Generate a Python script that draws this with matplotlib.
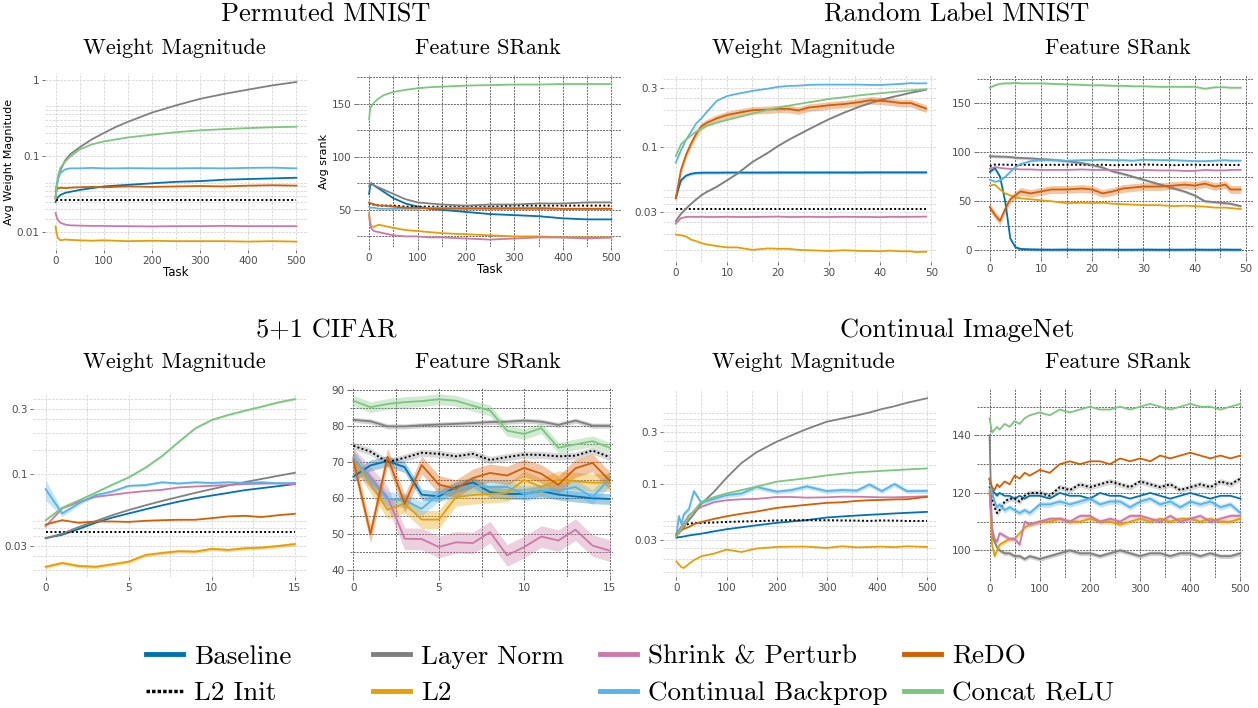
import numpy as np
import matplotlib
matplotlib.use("Agg")
import matplotlib.pyplot as plt
from matplotlib.ticker import MultipleLocator, LogLocator, NullFormatter
from matplotlib.lines import Line2D

plt.rcParams['axes.unicode_minus'] = False

methods = ["Baseline", "L2 Init", "Layer Norm", "L2", "Shrink & Perturb",
           "Continual Backprop", "ReDO", "Concat ReLU"]
colors = ["#0072B2", "#000000", "#808080", "#E69F00", "#CC79A7",
          "#56B4E9", "#D55E00", "#7BC77E"]

# ---------------- Permuted MNIST ----------------
pm_x = [0, 2, 5, 10, 20, 30, 50, 75, 100, 125, 150, 200, 250, 300, 350, 400, 450, 500]

pm_wm_baseline = [0.025, 0.027, 0.029, 0.031, 0.033, 0.034, 0.036, 0.038, 0.040, 0.041, 0.042, 0.044, 0.046, 0.047, 0.049, 0.050, 0.051, 0.052]
pm_wm_l2init = [0.0268] * 18
pm_wm_layernorm = [0.028, 0.040, 0.050, 0.065, 0.088, 0.105, 0.13, 0.165, 0.20, 0.24, 0.28, 0.37, 0.46, 0.56, 0.65, 0.74, 0.84, 0.93]
pm_wm_l2 = [0.012, 0.0098, 0.0085, 0.0079, 0.0081, 0.0080, 0.0079, 0.0078, 0.0079, 0.0078, 0.0077, 0.0078, 0.0077, 0.0077, 0.0077, 0.0076, 0.0077, 0.0076]
pm_wm_snp = [0.018, 0.016, 0.0145, 0.0134, 0.0127, 0.0124, 0.0123, 0.0122, 0.0122, 0.0121, 0.0121, 0.0120, 0.0121, 0.0121, 0.0122, 0.0121, 0.0121, 0.0121]
pm_wm_cbp = [0.030, 0.040, 0.050, 0.060, 0.067, 0.069, 0.069, 0.070, 0.069, 0.069, 0.0695, 0.069, 0.069, 0.0695, 0.069, 0.070, 0.0705, 0.069]
pm_wm_redo = [0.028, 0.036, 0.038, 0.0385, 0.038, 0.0385, 0.039, 0.0395, 0.039, 0.0395, 0.040, 0.0395, 0.040, 0.0405, 0.040, 0.041, 0.0415, 0.041]
pm_wm_concat = [0.028, 0.038, 0.055, 0.070, 0.085, 0.098, 0.122, 0.142, 0.155, 0.165, 0.175, 0.19, 0.205, 0.217, 0.225, 0.232, 0.238, 0.242]

pm_sr_baseline = [65, 72, 75, 73, 70, 67, 61, 56, 53, 51, 50, 48, 46, 45, 44, 42, 41, 41]
pm_sr_l2init = [55, 56, 55, 55, 54, 54, 54, 53, 53, 53, 53, 53, 53, 54, 54, 54, 54, 54]
pm_sr_layernorm = [72, 75, 75, 73, 71, 69, 65, 60, 57, 56, 55, 54, 55, 55, 56, 56, 57, 57]
pm_sr_l2 = [47, 38, 34, 34, 36, 35, 33, 31, 30, 29, 28, 27, 26, 25, 25, 24, 24, 24]
pm_sr_snp = [45, 36, 32, 30, 29, 28, 26, 25, 25, 24, 24, 23, 22, 23, 24, 24, 23, 24]
pm_sr_cbp = [53, 52, 52, 52, 51, 51, 51, 51, 51, 52, 52, 52, 52, 52, 52, 51, 51, 51]
pm_sr_redo = [57, 56, 56, 55, 54, 54, 53, 52, 52, 51, 51, 51, 51, 51, 51, 51, 51, 51]
pm_sr_concat = [135, 145, 148, 151, 155, 158, 161, 163, 164.5, 165.5, 166, 167, 167.5, 168, 168, 168.5, 168.5, 168.5]

# ---------------- Random Label MNIST ----------------
rlm_x = [0, 1, 2, 3, 4, 5, 6, 8, 10, 12, 15, 18, 20, 22, 24, 26, 28, 30, 33, 36, 38, 40, 42, 44, 46, 47, 49]

rlm_wm_baseline = [0.039, 0.054, 0.059, 0.061, 0.062, 0.0622, 0.0623, 0.0623, 0.0624, 0.0624, 0.0624, 0.0624, 0.0625, 0.0625, 0.0625, 0.0625, 0.0625, 0.0625, 0.0625, 0.0625, 0.0626, 0.0626, 0.0626, 0.0626, 0.0626, 0.0626, 0.0626]
rlm_wm_l2init = [0.0319] * 27
rlm_wm_layernorm = [0.0254, 0.029, 0.032, 0.035, 0.038, 0.041, 0.0435, 0.048, 0.054, 0.061, 0.076, 0.090, 0.102, 0.114, 0.126, 0.139, 0.153, 0.168, 0.19, 0.212, 0.226, 0.239, 0.251, 0.262, 0.274, 0.279, 0.29]
rlm_wm_l2 = [0.0198, 0.0195, 0.0191, 0.018, 0.0175, 0.0169, 0.0165, 0.016, 0.0156, 0.0156, 0.0149, 0.0153, 0.0152, 0.0152, 0.0149, 0.0148, 0.0147, 0.0146, 0.0148, 0.0146, 0.0146, 0.0145, 0.0147, 0.0145, 0.0145, 0.0143, 0.0144]
rlm_wm_snp = [0.0242, 0.0268, 0.0274, 0.0275, 0.0274, 0.0275, 0.0274, 0.0274, 0.0275, 0.0274, 0.0274, 0.0275, 0.0276, 0.0274, 0.0274, 0.0275, 0.0274, 0.0274, 0.0275, 0.0274, 0.0274, 0.0273, 0.0275, 0.0274, 0.0275, 0.0275, 0.0276]
rlm_wm_cbp = [0.075, 0.094, 0.114, 0.133, 0.155, 0.17, 0.19, 0.235, 0.257, 0.268, 0.283, 0.295, 0.305, 0.31, 0.312, 0.316, 0.318, 0.318, 0.318, 0.318, 0.316, 0.316, 0.319, 0.322, 0.327, 0.325, 0.326]
rlm_wm_redo = [0.0386, 0.065, 0.0865, 0.107, 0.128, 0.147, 0.156, 0.170, 0.181, 0.188, 0.198, 0.200, 0.203, 0.203, 0.197, 0.208, 0.212, 0.217, 0.222, 0.230, 0.238, 0.236, 0.232, 0.226, 0.226, 0.218, 0.204]
rlm_wm_concat = [0.0846, 0.105, 0.115, 0.124, 0.133, 0.141, 0.148, 0.157, 0.165, 0.173, 0.186, 0.199, 0.208, 0.215, 0.222, 0.229, 0.236, 0.244, 0.252, 0.261, 0.266, 0.271, 0.276, 0.281, 0.286, 0.288, 0.292]

rlm_sr_baseline = [80, 84, 75, 50, 12, 3, 1.2, 0.8, 0.6, 0.5, 0.6, 0.5, 0.5, 0.6, 0.5, 0.5, 0.5, 0.6, 0.5, 0.5, 0.5, 0.6, 0.5, 0.5, 0.6, 0.5, 0.5]
rlm_sr_l2init = [86, 87.5, 87.5, 87.3, 87.3, 87, 87.2, 87.3, 87, 87.2, 87.3, 87.3, 87, 87.3, 86.8, 87, 87.2, 87.6, 87.2, 86.8, 87.2, 87.3, 87, 87.2, 87.2, 87, 87.2]
rlm_sr_layernorm = [96, 95.8, 95.6, 95.5, 95.2, 94.5, 94.3, 93.8, 93, 92.5, 91, 89, 87, 84.5, 80.5, 78, 75, 72, 67.5, 63, 60, 56, 50, 49, 48, 47.5, 45]
rlm_sr_l2 = [66, 67, 62, 58, 56, 54, 53, 52, 51, 50, 48, 48.5, 48, 48.5, 47.5, 47, 46.5, 46, 46, 45, 45.5, 45, 44.5, 43.5, 43.5, 43, 42]
rlm_sr_snp = [83, 85, 84, 83.5, 83, 83, 82.5, 82.5, 82, 82, 82, 82.5, 82, 82, 82, 82, 81.5, 82, 81.5, 81.5, 81, 81, 82, 81.5, 81.5, 82, 82]
rlm_sr_cbp = [72, 70, 71, 75, 80, 85, 88, 91, 92, 92, 91.5, 92, 92, 92.5, 92, 92, 91.5, 92.5, 92, 92, 91.5, 91, 91, 91.5, 92, 91.5, 91.5]
rlm_sr_redo = [44, 36, 30, 42, 52, 56, 60, 58, 60, 62, 62, 63, 62, 58, 60, 63, 64, 65, 65, 66, 67, 66, 68, 65, 67, 62, 62]
rlm_sr_concat = [166, 168.5, 170, 170.5, 170.5, 171, 170.5, 170.5, 170.5, 170, 169.5, 169, 168.5, 168.5, 168, 168, 167.5, 167.5, 167, 167, 167, 167, 165, 166.5, 166.5, 166, 166]

# ---------------- 5+1 CIFAR ----------------
cf_x = list(range(16))

cf_wm_baseline = [0.034, 0.036, 0.0397, 0.044, 0.048, 0.0515, 0.0552, 0.059, 0.0628, 0.0665, 0.0696, 0.0728, 0.0762, 0.0788, 0.0815, 0.0844]
cf_wm_l2init = [0.0375] * 16
cf_wm_layernorm = [0.034, 0.0367, 0.041, 0.0452, 0.050, 0.0545, 0.059, 0.0635, 0.068, 0.0728, 0.0775, 0.0825, 0.0873, 0.092, 0.097, 0.102]
cf_wm_l2 = [0.021, 0.0224, 0.0213, 0.021, 0.0219, 0.0229, 0.0256, 0.0265, 0.0273, 0.0271, 0.0284, 0.0279, 0.0287, 0.029, 0.0298, 0.0308]
cf_wm_snp = [0.0415, 0.056, 0.0625, 0.068, 0.0704, 0.073, 0.075, 0.0766, 0.0797, 0.081, 0.082, 0.083, 0.0844, 0.085, 0.0855, 0.084]
cf_wm_cbp = [0.0775, 0.0515, 0.061, 0.070, 0.0745, 0.082, 0.083, 0.087, 0.0853, 0.087, 0.086, 0.087, 0.086, 0.087, 0.0855, 0.086]
cf_wm_redo = [0.0427, 0.046, 0.044, 0.045, 0.045, 0.0447, 0.0455, 0.046, 0.0463, 0.0463, 0.0476, 0.049, 0.0495, 0.0485, 0.050, 0.0512]
cf_wm_concat = [0.046, 0.0567, 0.0642, 0.073, 0.0834, 0.0945, 0.111, 0.135, 0.171, 0.215, 0.248, 0.270, 0.29, 0.31, 0.333, 0.352]
cf_wm_cbp_sd = [0.17, 0.05, 0.03, 0.02, 0.02, 0.02, 0.02, 0.02, 0.02, 0.02, 0.02, 0.02, 0.02, 0.02, 0.02, 0.02]

cf_sr_baseline = [66.0, 69.1, 70.3, 68.6, 61.0, 60.5, 63.1, 64.4, 61.7, 61.2, 61.2, 62.0, 61.0, 60.5, 60.0, 59.8]
cf_sr_l2init = [74.5, 72.9, 70.0, 71.2, 72.6, 72.3, 71.6, 72.3, 70.6, 71.4, 72.1, 72.0, 71.6, 71.8, 73.2, 71.4]
cf_sr_layernorm = [81.7, 81.3, 79.9, 79.9, 80.2, 80.4, 80.6, 80.8, 81.1, 81.2, 81.5, 81.2, 80.3, 81.5, 80.1, 80.1]
cf_sr_l2 = [70.9, 64.0, 56.8, 58.5, 54.1, 54.1, 60.3, 60.9, 61.2, 61.5, 65.1, 63.1, 65.1, 64.7, 64.3, 64.4]
cf_sr_snp = [70.9, 65.8, 60.3, 48.8, 48.7, 46.5, 47.8, 47.6, 50.6, 44.2, 46.5, 49.4, 48.3, 51.3, 46.9, 45.5]
cf_sr_cbp = [71.4, 64.9, 59.8, 59.4, 57.1, 61.2, 62.1, 63.5, 63.1, 63.1, 61.2, 62.0, 62.1, 63.1, 60.3, 65.4]
cf_sr_redo = [70.4, 50.1, 71.4, 58.5, 69.2, 63.8, 62.6, 65.6, 67.0, 66.3, 68.4, 66.8, 63.7, 68.3, 69.8, 64.9]
cf_sr_concat = [87.0, 85.2, 86.1, 86.6, 86.9, 87.4, 87.0, 85.6, 84.3, 78.7, 77.8, 79.4, 74.0, 74.9, 75.8, 74.0]

# ---------------- Continual ImageNet ----------------
in_wm_x = [0, 5, 10, 15, 25, 35, 50, 75, 100, 130, 160, 200, 230, 260, 300, 330, 360, 385, 410, 435, 460, 500]

in_wm_baseline = [0.0315, 0.0318, 0.032, 0.0323, 0.033, 0.0335, 0.0343, 0.036, 0.0377, 0.0393, 0.041, 0.0432, 0.0445, 0.0458, 0.0484, 0.0495, 0.0505, 0.0513, 0.052, 0.0528, 0.0535, 0.0546]
in_wm_l2init = [0.0315, 0.035, 0.038, 0.040, 0.0425, 0.043, 0.0431, 0.0435, 0.044, 0.0445, 0.0448, 0.0455, 0.0458, 0.0457, 0.0457, 0.0455, 0.0453, 0.045, 0.0455, 0.0453, 0.045, 0.045]
in_wm_layernorm = [0.0331, 0.035, 0.037, 0.040, 0.0457, 0.052, 0.0652, 0.0837, 0.113, 0.155, 0.195, 0.244, 0.28, 0.32, 0.374, 0.40, 0.428, 0.455, 0.49, 0.52, 0.56, 0.617]
in_wm_l2 = [0.019, 0.0178, 0.0168, 0.0165, 0.018, 0.0195, 0.0212, 0.0224, 0.0244, 0.0232, 0.025, 0.0258, 0.026, 0.026, 0.0253, 0.0262, 0.0256, 0.0258, 0.026, 0.0257, 0.0262, 0.0258]
in_wm_snp = [0.0343, 0.037, 0.040, 0.043, 0.0508, 0.055, 0.0607, 0.067, 0.070, 0.0715, 0.072, 0.075, 0.075, 0.074, 0.0745, 0.0755, 0.0755, 0.075, 0.0745, 0.0745, 0.075, 0.0763]
in_wm_cbp = [0.033, 0.050, 0.042, 0.052, 0.058, 0.085, 0.066, 0.072, 0.078, 0.081, 0.093, 0.084, 0.087, 0.094, 0.085, 0.087, 0.086, 0.098, 0.085, 0.099, 0.085, 0.0855]
in_wm_redo = [0.0336, 0.035, 0.037, 0.038, 0.0396, 0.042, 0.044, 0.047, 0.0497, 0.0525, 0.055, 0.0594, 0.0615, 0.0635, 0.0662, 0.067, 0.069, 0.070, 0.0705, 0.0712, 0.0715, 0.0752]
in_wm_concat = [0.032, 0.035, 0.038, 0.041, 0.049, 0.056, 0.0676, 0.075, 0.081, 0.087, 0.0935, 0.104, 0.108, 0.112, 0.119, 0.123, 0.127, 0.129, 0.131, 0.133, 0.135, 0.138]

in_sr_x = [0, 5, 10, 15, 20, 30, 40, 50, 60, 70, 80, 100, 120, 140, 160, 180, 200, 220, 240, 260, 280, 300, 320, 340, 360, 380, 400, 420, 440, 460, 480, 500]

in_sr_baseline = [122, 121, 120, 119, 120, 119, 119, 118, 119, 118, 119, 119, 118, 120, 119, 119, 118, 120, 119, 119, 118, 119, 120, 119, 118, 119, 120, 119, 118, 119, 119, 118]
in_sr_l2init = [125, 118, 115, 113, 114, 117, 118, 118, 117, 119, 120, 120, 119, 122, 121, 123, 122, 123, 124, 123, 122, 124, 123, 122, 123, 121, 122, 123, 122, 124, 123, 125]
in_sr_layernorm = [140, 105, 103, 101, 100, 99, 99, 98, 98, 97, 98, 97, 98, 99, 100, 99, 99, 98, 99, 100, 99, 98, 99, 99, 98, 99, 99, 98, 99, 98, 98, 99]
in_sr_l2 = [121, 102, 98, 100, 102, 103, 104, 104, 106, 108, 109, 110, 110, 111, 110, 110, 111, 110, 110, 109, 110, 111, 110, 111, 110, 111, 111, 110, 111, 110, 110, 111]
in_sr_snp = [120, 108, 104, 103, 106, 105, 104, 104, 102, 110, 109, 110, 111, 111, 110, 112, 112, 110, 111, 110, 112, 112, 111, 110, 112, 110, 111, 112, 110, 111, 112, 112]
in_sr_cbp = [125, 120, 117, 115, 116, 114, 115, 114, 113, 114, 113, 116, 116, 117, 116, 117, 118, 116, 117, 117, 115, 117, 118, 116, 117, 115, 117, 116, 117, 115, 116, 113]
in_sr_redo = [125, 122, 121, 123, 122, 124, 123, 126, 125, 127, 126, 128, 127, 130, 131, 130, 131, 131, 130, 132, 131, 132, 131, 133, 132, 133, 134, 133, 132, 133, 132, 133]
in_sr_concat = [146, 141, 142, 143, 142, 144, 143, 145, 144, 146, 147, 148, 147, 149, 148, 149, 150, 149, 149, 150, 149, 150, 151, 150, 149, 150, 151, 150, 150, 149, 150, 151]


def draw(ax, x, series, bands, log):
    x = np.asarray(x)
    for i, (name, col) in enumerate(zip(methods, colors)):
        y = np.asarray(series[i], dtype=float)
        b = bands.get(name)
        if b is not None:
            b = np.asarray(b, dtype=float)
            fc = "#909090" if name == "L2 Init" else col
            if log:
                ax.fill_between(x, y * (1 - b), y * (1 + b), color=fc, alpha=0.35, lw=0)
            else:
                ax.fill_between(x, y - b, y + b, color=fc, alpha=0.35, lw=0)
        if name == "L2 Init":
            ax.plot(x, y, color=col, lw=1.4, ls=(0, (1, 1.2)), zorder=3)
        else:
            ax.plot(x, y, color=col, lw=1.3, zorder=3)


def style(ax, srank, xmaj, xmin, xlim, ylim, ymaj=None, ymin=None, yt=None):
    for s in ax.spines.values():
        s.set_visible(False)
    ax.set_xlim(*xlim)
    ax.set_ylim(*ylim)
    ax.xaxis.set_major_locator(MultipleLocator(xmaj))
    ax.xaxis.set_minor_locator(MultipleLocator(xmin))
    if srank:
        ax.yaxis.set_major_locator(MultipleLocator(ymaj))
        ax.yaxis.set_minor_locator(MultipleLocator(ymin))
        ax.grid(True, which="both", color="#666666", ls=(0, (2, 1.2)), lw=0.7)
    else:
        ax.set_yscale("log")
        ax.set_yticks(yt, [("%g" % v) for v in yt])
        ax.yaxis.set_minor_locator(LogLocator(base=10, subs=np.arange(2, 10) * 0.5, numticks=30))
        ax.yaxis.set_minor_formatter(NullFormatter())
        ax.grid(True, which="both", color="#d4d4d4", ls=(0, (3, 1.5)), lw=0.6)
    ax.set_axisbelow(True)
    ax.tick_params(which="major", length=2.5, width=0.6, color="#555555",
                   labelcolor="#4d4d4d", labelsize=7.5, pad=1.5)
    ax.tick_params(which="minor", length=0)


W, H = 1258, 708
fig = plt.figure(figsize=(W / 100, H / 100), dpi=100)


def box(l, r, t, b):
    return [l / W, 1 - b / H, (r - l) / W, (b - t) / H]


# Permuted MNIST
ax = fig.add_axes(box(45, 307, 73, 250))
draw(ax, pm_x, [pm_wm_baseline, pm_wm_l2init, pm_wm_layernorm, pm_wm_l2, pm_wm_snp,
                pm_wm_cbp, pm_wm_redo, pm_wm_concat], {}, True)
style(ax, False, 100, 50, (-22, 522), (0.0059, 1.22), yt=[0.01, 0.1, 1])
ax.set_ylabel("Avg Weight Magnitude", fontsize=8, labelpad=2)
ax.set_xlabel("Task", fontsize=8.5, labelpad=0)

ax = fig.add_axes(box(357, 622, 75, 247))
draw(ax, pm_x, [pm_sr_baseline, pm_sr_l2init, pm_sr_layernorm, pm_sr_l2, pm_sr_snp,
                pm_sr_cbp, pm_sr_redo, pm_sr_concat], {}, False)
style(ax, True, 100, 50, (-25, 522), (15, 177), 50, 25)
ax.set_ylabel("Avg srank", fontsize=8, labelpad=2)
ax.set_xlabel("Task", fontsize=8.5, labelpad=0)

# Random Label MNIST
ax = fig.add_axes(box(663, 937, 75, 262))
draw(ax, rlm_x, [rlm_wm_baseline, rlm_wm_l2init, rlm_wm_layernorm, rlm_wm_l2, rlm_wm_snp,
                 rlm_wm_cbp, rlm_wm_redo, rlm_wm_concat],
     {"ReDO": 0.07, "Baseline": 0.025, "Layer Norm": 0.012}, True)
style(ax, False, 10, 5, (-2.5, 51.1), (0.0119, 0.38), yt=[0.03, 0.1, 0.3])

ax = fig.add_axes(box(977, 1253, 75, 258))
draw(ax, rlm_x, [rlm_sr_baseline, rlm_sr_l2init, rlm_sr_layernorm, rlm_sr_l2, rlm_sr_snp,
                 rlm_sr_cbp, rlm_sr_redo, rlm_sr_concat],
     {"ReDO": 4, "Layer Norm": 1.5, "Baseline": 1.5, "Continual Backprop": 0.8,
      "Concat ReLU": 0.7}, False)
style(ax, True, 10, 5, (-2.5, 51.4), (-8, 179), 50, 25)

# 5+1 CIFAR
ax = fig.add_axes(box(33, 307, 393, 577))
draw(ax, cf_x, [cf_wm_baseline, cf_wm_l2init, cf_wm_layernorm, cf_wm_l2, cf_wm_snp,
                cf_wm_cbp, cf_wm_redo, cf_wm_concat],
     {"Continual Backprop": cf_wm_cbp_sd, "L2": 0.03, "Concat ReLU": 0.015}, True)
style(ax, False, 5, 2.5, (-0.76, 15.73), (0.0177, 0.39), yt=[0.03, 0.1, 0.3])

ax = fig.add_axes(box(350, 613, 387, 577))
draw(ax, cf_x, [cf_sr_baseline, cf_sr_l2init, cf_sr_layernorm, cf_sr_l2, cf_sr_snp,
                cf_sr_cbp, cf_sr_redo, cf_sr_concat],
     {"Baseline": 1.5, "L2 Init": 1.0, "Layer Norm": 0.7, "L2": 2.5, "Shrink & Perturb": 3,
      "Continual Backprop": 2, "ReDO": 2.5, "Concat ReLU": 1.5}, False)
style(ax, True, 5, 2.5, (-0.2, 15.2), (38.2, 90.8), 10, 5)

# Continual ImageNet
ax = fig.add_axes(box(663, 937, 390, 577))
draw(ax, in_wm_x, [in_wm_baseline, in_wm_l2init, in_wm_layernorm, in_wm_l2, in_wm_snp,
                   in_wm_cbp, in_wm_redo, in_wm_concat],
     {"Continual Backprop": 0.05}, True)
style(ax, False, 100, 50, (-26.7, 520), (0.0136, 0.736), yt=[0.03, 0.1, 0.3])

ax = fig.add_axes(box(977, 1243, 388, 578))
draw(ax, in_sr_x, [in_sr_baseline, in_sr_l2init, in_sr_layernorm, in_sr_l2, in_sr_snp,
                   in_sr_cbp, in_sr_redo, in_sr_concat],
     {"L2 Init": 1.0, "Continual Backprop": 1.0, "Layer Norm": 0.8, "L2": 0.8,
      "Shrink & Perturb": 0.8}, False)
style(ax, True, 100, 50, (-25, 505), (90.4, 156.5), 20, 10)

# titles
serif = "cmr10"
for cx, cy, txt in [(326, 15, "Permuted MNIST"), (957, 15, "Random Label MNIST"),
                    (326, 330, "5+1 CIFAR"), (957, 330, "Continual ImageNet")]:
    fig.text(cx / W, 1 - cy / H, txt, ha="center", va="center", fontsize=19, family=serif)
for cx, cy, txt in [(174, 48, "Weight Magnitude"), (488, 48, "Feature SRank"),
                    (803, 48, "Weight Magnitude"), (1118, 48, "Feature SRank"),
                    (174, 362, "Weight Magnitude"), (488, 362, "Feature SRank"),
                    (803, 362, "Weight Magnitude"), (1118, 362, "Feature SRank")]:
    fig.text(cx / W, 1 - cy / H, txt, ha="center", va="center", fontsize=16, family=serif)

# legend: four columns of two entries
handles = []
for name, col in zip(methods, colors):
    if name == "L2 Init":
        handles.append(Line2D([], [], color=col, lw=2.5, ls=(0, (1, 0.6))))
    else:
        handles.append(Line2D([], [], color=col, lw=3.5))
for k, lx in enumerate([146, 373, 600, 904]):
    fig.legend(handles[2 * k:2 * k + 2], methods[2 * k:2 * k + 2], loc="center left",
               bbox_to_anchor=(lx / W, 1 - 675 / H), frameon=False,
               prop={"family": serif, "size": 19.5}, handlelength=1.37,
               handletextpad=0.4, labelspacing=0.45, borderpad=0, borderaxespad=0)

fig.savefig("out.png", dpi=100)
